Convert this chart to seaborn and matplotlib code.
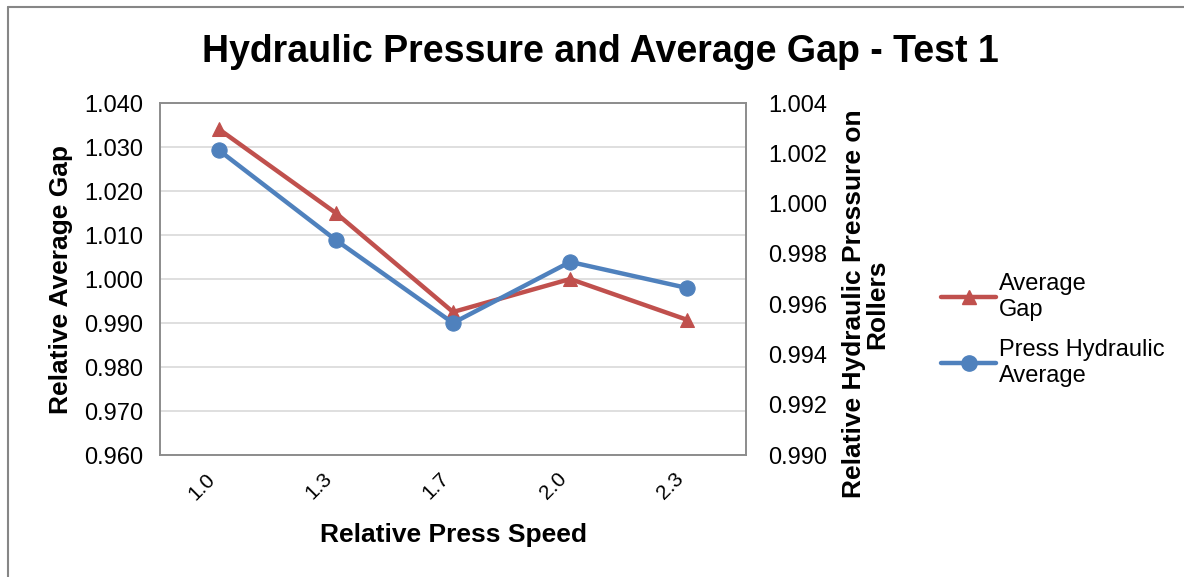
import pandas as pd
import seaborn as sns
import matplotlib.pyplot as plt
from matplotlib.lines import Line2D

# values
speeds = ["1.0", "1.3", "1.7", "2.0", "2.3"]
avg_gap = [1.0341, 1.0150, 0.9925, 1.0000, 0.9907]
hydraulic = [1.00213, 0.99855, 0.99525, 0.99768, 0.99664]

red = "#C0504D"
blue = "#4F81BD"

df = pd.DataFrame({"pos": range(len(speeds)), "speed": speeds,
                   "gap": avg_gap, "hyd": hydraulic})

sns.set_style("white")
plt.rcParams["font.family"] = ["Liberation Sans", "DejaVu Sans"]
for k in ("text.color", "axes.labelcolor", "xtick.color", "ytick.color"):
    plt.rcParams[k] = "black"

fig = plt.figure(figsize=(11.84, 5.77), dpi=100)
ax = fig.add_axes([160 / 1184, 1 - 455 / 577, 586 / 1184, 352 / 577])
ax2 = ax.twinx()

sns.lineplot(data=df, x="pos", y="gap", ax=ax, color=red, linewidth=3.2,
             marker="^", markersize=10, markeredgecolor=red, zorder=3)
sns.lineplot(data=df, x="pos", y="hyd", ax=ax2, color=blue, linewidth=3.2,
             marker="o", markersize=11, markeredgecolor=blue, zorder=3)

ax.set_xlim(-0.5, len(speeds) - 0.5)
ax.set_ylim(0.960, 1.040)
ax.set_yticks([0.960 + 0.01 * i for i in range(9)])
ax.set_yticklabels([f"{0.960 + 0.01 * i:.3f}" for i in range(9)], fontsize=17)
ax2.set_ylim(0.990, 1.004)
ax2.set_yticks([0.990 + 0.002 * i for i in range(8)])
ax2.set_yticklabels([f"{0.990 + 0.002 * i:.3f}" for i in range(8)], fontsize=17)

ax.set_xticks(df["pos"])
ax.set_xticklabels(speeds, rotation=45, fontsize=15, ha="right", va="bottom",
                   rotation_mode="anchor")
ax.tick_params(axis="y", length=0, pad=12)
ax.tick_params(axis="x", length=0, pad=20)
ax2.tick_params(axis="y", length=0, pad=16)

ax.grid(axis="y", color="#D9D9D9", linewidth=1.2)
ax.set_axisbelow(True)
for a in (ax, ax2):
    for s in a.spines.values():
        s.set_color("#8C8C8C")
        s.set_linewidth(1.2)

ax.set_xlabel("Relative Press Speed", fontsize=19, fontweight="bold")
ax.xaxis.set_label_coords(0.5, -(535 - 455) / 352)
ax.xaxis.label.set_va("center")
ax.set_ylabel("Relative Average Gap", fontsize=19, fontweight="bold", labelpad=8)
ax2.set_ylabel("Relative Hydraulic Pressure on\nRollers", fontsize=19,
               fontweight="bold", linespacing=0.95)
ax2.yaxis.set_label_coords((842 - 160) / 586, (455 - 304) / 352)

fig.suptitle("Hydraulic Pressure and Average Gap - Test 1", fontsize=27,
             fontweight="bold", x=600 / 1184, y=1 - 52 / 577, va="center")

handles = [Line2D([], [], color=red, lw=3.2, marker="^", markersize=10),
           Line2D([], [], color=blue, lw=3.2, marker="o", markersize=11)]
fig.legend(handles, ["Average\nGap", "Press Hydraulic\nAverage"],
           loc="center left", bbox_to_anchor=(932 / 1184, 1 - 330 / 577),
           frameon=False, fontsize=17, handlelength=2.3, handletextpad=0.15,
           labelspacing=0.8, borderaxespad=0)

# outer chart border (left and top edges visible)
bx = 7.5 / 1184
by = 1 - 6.5 / 577
fig.add_artist(Line2D([bx, bx], [0, by], color="#868686", lw=1.5,
                      transform=fig.transFigure))
fig.add_artist(Line2D([bx, 1], [by, by], color="#868686", lw=1.5,
                      transform=fig.transFigure))

fig.savefig("out.png", dpi=100)
